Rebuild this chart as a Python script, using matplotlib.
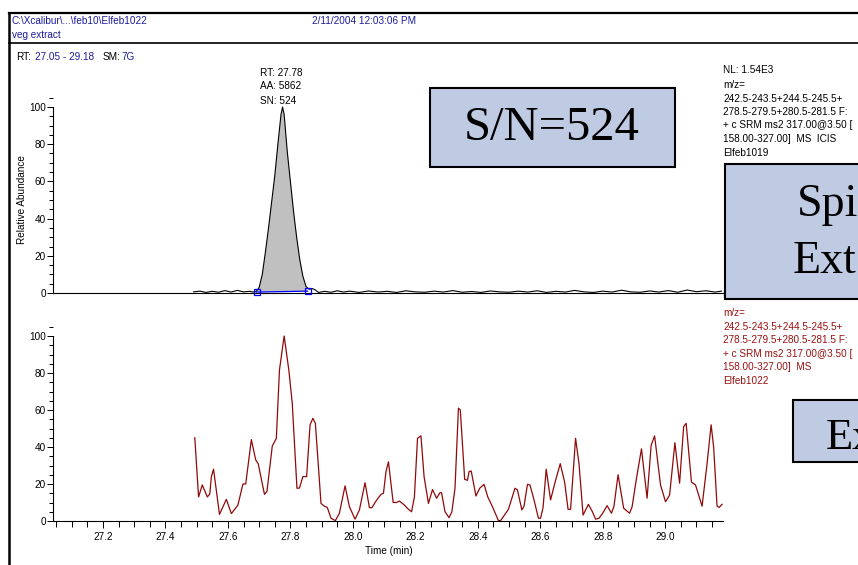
"""
XCALIBUR CHROMATOGRAM - VEG EXTRACT
"""

import matplotlib
matplotlib.use('Agg')
import matplotlib.pyplot as plt
from matplotlib.patches import Rectangle
from matplotlib.lines import Line2D
from matplotlib.ticker import MultipleLocator, FormatStrFormatter
import numpy as np

# Top trace (Elfeb1019): time (min) and relative abundance.
top_time = [27.49, 27.51, 27.53, 27.55, 27.57, 27.59, 27.61, 27.63, 27.65,
            27.67, 27.68, 27.69, 27.70, 27.71, 27.72, 27.73, 27.74, 27.75,
            27.76, 27.77, 27.775, 27.78, 27.79, 27.80, 27.81, 27.82, 27.83,
            27.84, 27.85, 27.86, 27.87, 27.88, 27.89, 27.91, 27.93, 27.95,
            27.97, 27.99, 28.02, 28.05, 28.08, 28.11, 28.14, 28.17, 28.20,
            28.23, 28.26, 28.29, 28.32, 28.35, 28.38, 28.41, 28.44, 28.47,
            28.50, 28.53, 28.56, 28.59, 28.62, 28.65, 28.68, 28.71, 28.74,
            28.77, 28.80, 28.83, 28.86, 28.89, 28.92, 28.95, 28.98, 29.01,
            29.04, 29.07, 29.10, 29.13, 29.16, 29.18]
top_abund = [0.6, 1.0, 0.3, 0.9, 0.4, 1.3, 0.5, 1.4, 0.6, 0.9, 0.5, 0.8,
             3, 10, 22, 35, 49, 63, 80, 96, 100, 96, 76, 60, 44, 30, 18,
             9, 3.5, 2.0, 2.4, 1.6, 0.3, 0.9, 0.4, 1.2, 0.5, 1.0, 0.3, 1.1,
             0.5, 0.9, 0.3, 1.2, 0.6, 0.4, 1.0, 0.5, 1.3, 0.4, 0.8, 0.3, 1.1,
             0.6, 0.4, 1.0, 0.5, 1.2, 0.3, 0.9, 0.5, 1.4, 0.6, 0.3, 1.0, 0.5,
             1.5, 0.6, 0.4, 1.1, 0.5, 1.3, 0.4, 1.6, 0.7, 1.2, 0.5, 1.0]

# Integration start / end of the top peak (time, abundance).
peak_start = (27.692, 0.5)
peak_end = (27.855, 1.0)

# Bottom trace (Elfeb1022): time (min) and relative abundance.
bot_time = [27.494, 27.506, 27.518, 27.534, 27.542, 27.547, 27.554, 27.573,
            27.595, 27.611, 27.632, 27.648, 27.657, 27.675, 27.689, 27.697,
            27.717, 27.725, 27.742, 27.755, 27.765, 27.780, 27.795, 27.806,
            27.821, 27.829, 27.840, 27.852, 27.863, 27.872, 27.880, 27.898,
            27.909, 27.918, 27.930, 27.944, 27.957, 27.975, 27.989, 28.007,
            28.021, 28.039, 28.053, 28.061, 28.074, 28.090, 28.098, 28.106,
            28.114, 28.129, 28.140, 28.149, 28.165, 28.178, 28.188, 28.197,
            28.207, 28.218, 28.228, 28.242, 28.255, 28.268, 28.279, 28.284,
            28.295, 28.308, 28.317, 28.327, 28.338, 28.344, 28.358, 28.367,
            28.372, 28.379, 28.394, 28.406, 28.420, 28.432, 28.447, 28.466,
            28.473, 28.498, 28.519, 28.527, 28.541, 28.548, 28.559, 28.567,
            28.580, 28.594, 28.601, 28.609, 28.619, 28.633, 28.649, 28.664,
            28.678, 28.689, 28.697, 28.713, 28.724, 28.737, 28.754, 28.767,
            28.777, 28.788, 28.800, 28.814, 28.828, 28.836, 28.849, 28.867,
            28.886, 28.894, 28.907, 28.924, 28.942, 28.955, 28.966, 28.985,
            29.001, 29.014, 29.031, 29.046, 29.059, 29.067, 29.084, 29.097,
            29.118, 29.134, 29.147, 29.155, 29.166, 29.173, 29.182]
bot_abund = [45, 13, 19.5, 13, 14.6, 24, 28, 3.6,
             11.7, 4, 8.6, 20, 20, 44, 33, 31,
             14.4, 16, 40.5, 44.7, 81.6, 100, 81.6, 63.6,
             17.7, 17.8, 24, 24, 52, 55.5, 52.8, 9.5,
             8, 7.4, 1.5, 0.2, 4.2, 19, 7.7, 1,
             6, 20.7, 7.2, 7.2, 10.8, 14.4, 15, 26.7,
             32, 10, 10, 10.8, 8.6, 6.3, 5, 13,
             44.7, 46, 24, 9.5, 17, 12.3, 15.3, 15.3,
             5, 1.8, 5, 17.7, 61, 60, 22.5, 22,
             26.7, 27, 13.5, 17.7, 19.8, 13, 7.7, 0.2,
             0.2, 6.3, 17.7, 16.8, 6, 8, 19.8, 19.5,
             11.4, 1.5, 1.5, 7.4, 28, 11.4, 22, 31,
             21, 6.3, 6.3, 44.7, 31, 3.2, 9, 5,
             1, 1.5, 4.2, 8.3, 4.2, 8, 25, 6.9,
             4.2, 7.7, 22, 39, 12.3, 41, 46, 19.5,
             10.4, 14, 42.3, 20.4, 51, 52.8, 21, 19.5,
             8, 31, 52, 40, 8, 7.4, 9]

# Text blocks.
top_info = ['NL: 1.54E3', 'm/z=', '242.5-243.5+244.5-245.5+',
            '278.5-279.5+280.5-281.5 F:', '+ c SRM ms2 317.00@3.50 [',
            '158.00-327.00]  MS  ICIS', 'Elfeb1019']
bot_info = ['NL: 1.54E2', 'm/z=', '242.5-243.5+244.5-245.5+',
            '278.5-279.5+280.5-281.5 F:', '+ c SRM ms2 317.00@3.50 [',
            '158.00-327.00]  MS', 'Elfeb1022']
peak_label = ['RT: 27.78', 'AA: 5862', 'SN: 524']
y_ticks = [0, 20, 40, 60, 80, 100]

W, H = 858, 565
BLUE = '#1c1c9c'
RED = '#9a1010'
BOX = '#bfcbe3'
FS = 7.2


def px(x, y):
    """ Pixel position -> figure fraction. """
    return x / W, 1 - y / H


def style_axis(ax):
    """ Common Xcalibur-like axis look. """
    ax.set_xlim(27.04, 29.185)
    ax.set_ylim(0, 105)
    for s in ['top', 'right']:
        ax.spines[s].set_visible(False)
    ax.spines['left'].set_bounds(0, 100)
    for s in ['left', 'bottom']:
        ax.spines[s].set_linewidth(0.8)
    ax.set_yticks(y_ticks)
    ax.yaxis.set_minor_locator(MultipleLocator(5))
    ax.tick_params(axis='y', which='major', length=4, width=0.7,
                   labelsize=FS, pad=1)
    ax.tick_params(axis='y', which='minor', length=3, width=0.7)
    ax.patch.set_alpha(0)


plt.rcParams['font.family'] = ['Liberation Sans', 'DejaVu Sans']
fig = plt.figure(figsize=(W / 100, H / 100), dpi=100)

# Page frame and header.
fig.add_artist(Line2D([9 / W, 1], [1 - 13 / H] * 2, color='black', lw=1.6))
fig.add_artist(Line2D([9 / W, 1], [1 - 42.5 / H] * 2, color='black', lw=1.2))
fig.add_artist(Line2D([9 / W] * 2, [0, 1 - 13 / H], color='black', lw=1.8))
fig.text(*px(12, 21.5), r'C:\Xcalibur\...\feb10\Elfeb1022', color=BLUE,
         fontsize=FS, va='center')
fig.text(*px(312, 21.5), '2/11/2004 12:03:06 PM', color=BLUE,
         fontsize=FS, va='center')
fig.text(*px(12, 35), 'veg extract', color=BLUE, fontsize=FS, va='center')
fig.text(*px(16, 57), 'RT:', fontsize=FS, va='center')
fig.text(*px(35, 57), '27.05 - 29.18', color=BLUE, fontsize=FS, va='center')
fig.text(*px(103, 57), 'SM:', fontsize=FS, va='center')
fig.text(*px(122, 57), '7G', color=BLUE, fontsize=FS, va='center')

# Top chromatogram.
ax_top = fig.add_axes([53 / W, (H - 293) / H, 670 / W, 195.3 / H])
style_axis(ax_top)
ax_top.tick_params(axis='x', which='both', bottom=False, labelbottom=False)
t = np.array(top_time)
v = np.array(top_abund)
sel = (t > peak_start[0]) & (t < peak_end[0])
ax_top.fill(np.r_[peak_start[0], t[sel], peak_end[0]],
            np.r_[peak_start[1], v[sel], peak_end[1]],
            facecolor='#c0c0c0', edgecolor='none', zorder=1)
ax_top.plot(t, v, color='black', lw=0.8, zorder=2)
ax_top.plot([peak_start[0], peak_end[0]], [peak_start[1], peak_end[1]],
            color='blue', lw=0.9, marker='s', mfc='none', mec='blue',
            ms=4.5, mew=0.9, zorder=3, clip_on=False)

# Bottom chromatogram.
ax_bot = fig.add_axes([53 / W, (H - 521) / H, 670 / W, 194.25 / H])
style_axis(ax_bot)
ax_bot.plot(bot_time, bot_abund, color='#8f0a0a', lw=0.9)
ax_bot.xaxis.set_major_locator(MultipleLocator(0.2))
ax_bot.xaxis.set_minor_locator(MultipleLocator(0.05))
ax_bot.xaxis.set_major_formatter(FormatStrFormatter('%.1f'))
ax_bot.tick_params(axis='x', which='major', length=5, width=0.7,
                   labelsize=FS, pad=3)
ax_bot.tick_params(axis='x', which='minor', length=4, width=0.7)

# Axis titles.
fig.text(*px(22, 200), 'Relative Abundance', rotation=90, fontsize=FS,
         ha='center', va='center')
fig.text(*px(389, 551), 'Time (min)', fontsize=FS, ha='center', va='center')

# Peak annotation and trace info.
for i, line in enumerate(peak_label):
    fig.text(*px(260, 72.5 + i * 14), line, fontsize=FS, va='center')
for i, line in enumerate(top_info):
    y = 70 if i == 0 else 85 + (i - 1) * 13.5
    fig.text(*px(723, y), line, fontsize=FS, va='center')
for i, line in enumerate(bot_info):
    y = 295 if i == 0 else 313 + (i - 1) * 13.6
    fig.text(*px(723, y), line, color=RED, fontsize=FS, va='center',
             zorder=3)


def slide_box(x0, y0, x1, y1):
    """ Light blue callout box in pixel coordinates. """
    fig.add_artist(Rectangle(px(x0, y1), (x1 - x0) / W, (y1 - y0) / H,
                             transform=fig.transFigure, facecolor=BOX,
                             edgecolor='black', lw=1.5, zorder=5))


# Callout boxes (the right ones run off the page, as in the slide).
serif = ['Liberation Serif', 'DejaVu Serif']
slide_box(430, 88, 675, 167)
fig.text(*px(552, 128), 'S/N=524', family=serif, fontsize=35,
         ha='center', va='center', zorder=6)
slide_box(725, 164, 920, 299)
fig.text(*px(797, 205), 'Spi', family=serif, fontsize=33,
         va='center', zorder=6)
fig.text(*px(793, 262), 'Ext', family=serif, fontsize=33,
         va='center', zorder=6)
slide_box(793, 400, 920, 462)
fig.text(*px(826, 438), 'Ex', family=serif, fontsize=32,
         va='center', zorder=6)

plt.savefig('out.png', dpi=100)
